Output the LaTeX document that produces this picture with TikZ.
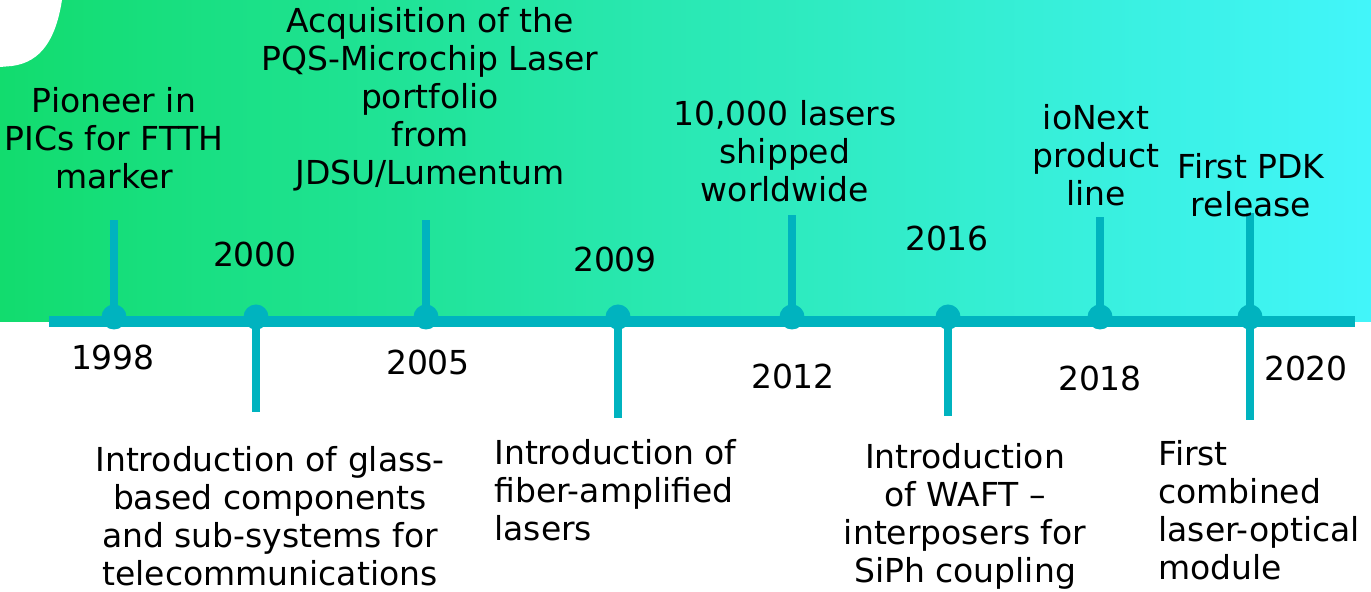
\documentclass[tikz,border=0pt]{standalone}
\usepackage{fontspec}
\setmainfont{DejaVu Sans}
\usetikzlibrary{positioning}
\definecolor{tealline}{HTML}{00B3BF}
\definecolor{bandgreen}{HTML}{12DC6E}
\definecolor{bandcyan}{HTML}{42F5FA}

\begin{document}
\begin{tikzpicture}[x=0.5pt,y=-0.5pt,
  font=\fontsize{16.5}{19}\selectfont,
  evt/.style={align=center,inner sep=0pt},
  evtl/.style={align=left,inner sep=0pt},
  stem/.style={tealline,line width=4pt},
  dot/.style={circle,fill=tealline,minimum size=12.5pt,inner sep=0pt}]
\useasboundingbox (0,0) rectangle (1371,592);
% background band, white corner blob
\shade[left color=bandgreen,right color=bandcyan] (0,0) rectangle (1371,322);
\fill[white] (0,0) -- (62,0) .. controls (56,38) and (42,62) .. (12,66)
  -- (0,67) -- cycle;
% axis
\coordinate (axL) at (49,322);
\coordinate (axR) at (1355,322);
\draw[tealline,line width=5.5pt] (axL) -- (axR);
% stems: above (u) and below (b) the axis
\foreach \yr/\x/\y in {1998/114/220,2005/426/220,2012/792/215,
  2018/1100/217,2020/1250/213}{
  \coordinate (u\yr) at (\x,\y);
}
\foreach \yr/\x/\y in {2000/256/412,2009/618/418,2016/948/416,
  2020/1250/420}{
  \coordinate (b\yr) at (\x,\y);
}
\foreach \yr/\x in {1998/114,2000/256,2005/426,2009/618,2012/792,
  2016/948,2018/1100,2020/1250}{
  \node[dot] (d\yr) at (\x,317) {};
}
\foreach \yr in {1998,2005,2012,2018,2020}{
  \draw[stem] (d\yr.center) -- (u\yr);
}
\foreach \yr in {2000,2009,2016,2020}{
  \draw[stem] (d\yr.center) -- (b\yr);
}
% years
\foreach \yr/\x/\y in {1998/113/357,2000/255/254,2005/428/362,
  2009/615/259,2012/793/376,2016/947/238,2018/1100/378,2020/1306/368}{
  \node (y\yr) at (\x,\y) {\yr};
}
% event texts
\node[evt] (e1998) at (114,138) {Pioneer in\\PICs for FTTH\\marker};
\node[evt] (e2005) at (430,99) {Acquisition of the\\PQS-Microchip Laser\\
  portfolio\\from\\JDSU/Lumentum};
\node[evt] (e2012) at (785,151) {10,000 lasers\\shipped\\worldwide};
\node[evt] (e2018) at (1096,155) {ioNext\\product\\line};
\node[evt] (e2020a) at (1251,185) {First PDK\\release};
\node[evt] (e2000) at (270,516) {Introduction of glass-\\based components\\
  and sub-systems for\\telecommunications};
\node[evtl,anchor=west] (e2009) at (494,490) {Introduction of\\
  fiber-amplified\\lasers};
\node[evt] (e2016) at (965,516) {Introduction\\of WAFT --\\
  interposers for\\SiPh coupling};
\node[evtl,anchor=west] (e2020b) at (1158,510) {First\\combined\\
  laser-optical\\module};
\end{tikzpicture}
\end{document}
